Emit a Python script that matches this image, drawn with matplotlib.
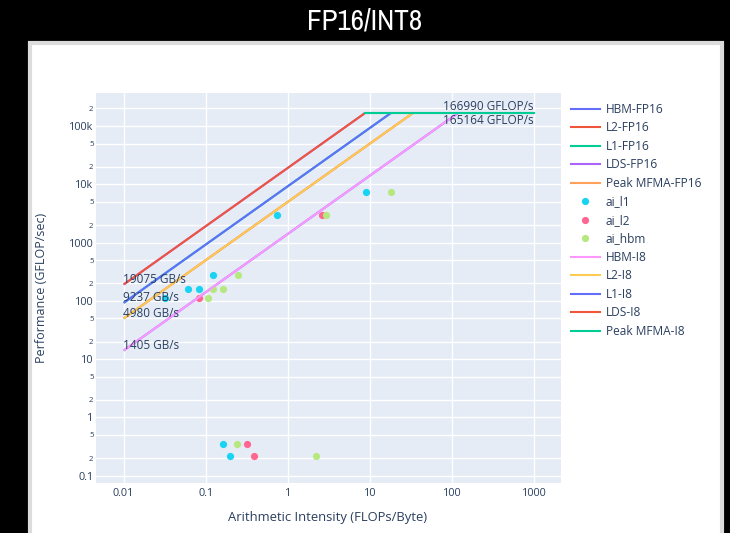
import matplotlib
matplotlib.use("Agg")
import matplotlib.pyplot as plt
from matplotlib.lines import Line2D
from matplotlib.patches import Rectangle
import numpy as np

plt.rcParams['font.family'] = ['Open Sans', 'DejaVu Sans']

# ---------------- data ----------------
bw_names = ["HBM", "L2", "L1", "LDS"]
bw_values = [1405, 4980, 9237, 19075]          # GB/s
peak_fp16 = 165164                              # GFLOP/s
peak_i8 = 166990                                # GOP/s
x_start = 0.01
x_end = 1000

ai_l1_x = [0.124, 0.0617, 0.0822, 0.032, 8.97, 0.735, 0.161, 0.196]
ai_l1_y = [281, 162, 162, 111, 7465, 2974, 0.351, 0.219]
ai_l2_x = [0.0837, 2.64, 0.318, 0.386]
ai_l2_y = [111, 2974, 0.351, 0.219]
ai_hbm_x = [0.245, 0.124, 0.164, 0.1057, 17.9, 2.93, 0.243, 2.21]
ai_hbm_y = [281, 162, 162, 111, 7465, 2974, 0.351, 0.219]

xtick_vals = [0.01, 0.1, 1, 10, 100, 1000]
xtick_labels = ["0.01", "0.1", "1", "10", "100", "1000"]
ytick_major = [0.1, 1, 10, 100, 1000, 10000, 100000]
ytick_major_labels = ["0.1", "1", "10", "100", "1000", "10k", "100k"]

# ---------------- style ----------------
c_fp16 = {"HBM": "#636EFA", "L2": "#EF553B", "L1": "#00CC96", "LDS": "#AB63FA"}
c_peak_fp16 = "#FFA15A"
c_i8 = {"HBM": "#FF97FF", "L2": "#FECB52", "L1": "#636EFA", "LDS": "#EF553B"}
c_peak_i8 = "#00CC96"
c_ai = {"ai_l1": "#19D3F3", "ai_l2": "#FF6692", "ai_hbm": "#B6E880"}
txt = "#2a3f5f"
ann_fs = 8.5

W, H = 730, 533
fig = plt.figure(figsize=(W / 100, H / 100), dpi=100, facecolor="black")

# white panel
fig.patches.append(Rectangle((30 / W, -0.01), (722 - 30) / W, (533 - 43) / H + 0.01,
                             transform=fig.transFigure, facecolor="white",
                             edgecolor="#dcdcdc", linewidth=3, zorder=-5))
fig.text(365 / W, 1 - 21 / H, "FP16/INT8", color="white", ha="center", va="center",
         fontsize=21, family=["Archivo Narrow", "DejaVu Sans"])

ax = fig.add_axes([96 / W, (533 - 483) / H, (561 - 96) / W, (483 - 93) / H])
ax.set_facecolor("#E5ECF6")
ax.set_xscale("log")
ax.set_yscale("log")
ax.set_xlim(10 ** -2.337, 10 ** 3.33)
ax.set_ylim(10 ** -1.125, 10 ** 5.566)
for s in ax.spines.values():
    s.set_visible(False)

lw = 1.5
handles = []
labels = []

def roof_lines(colors, peak, suffix, z, annotate):
    ridge_min = min(peak / b for b in bw_values)
    for name, bw in zip(bw_names, bw_values):
        ridge = peak / bw
        xs = [x_start, ridge]
        ys = [bw * x_start, peak]
        ax.plot(xs, ys, color=colors[name], lw=lw, zorder=z, solid_capstyle="butt")
        handles.append(Line2D([], [], color=colors[name], lw=lw))
        labels.append(f"{name}-{suffix}")
        if annotate:
            ax.annotate(f"{bw} GB/s", (x_start, bw * x_start), xytext=(-0.5, 1.2),
                        textcoords="offset points", ha="left", va="baseline",
                        fontsize=ann_fs, color=txt, zorder=10)
    return ridge_min

# FP16 traces
rm = roof_lines(c_fp16, peak_fp16, "FP16", 2, False)
ax.plot([rm, x_end], [peak_fp16, peak_fp16], color=c_peak_fp16, lw=lw, zorder=2)
handles.append(Line2D([], [], color=c_peak_fp16, lw=lw))
labels.append("Peak MFMA-FP16")
ax.annotate(f"{peak_fp16} GFLOP/s", (x_end, peak_fp16), xytext=(0, -0.8),
            textcoords="offset points", ha="right", va="top", fontsize=ann_fs,
            color=txt, zorder=10)

# scatter points
ms = 5.2
for name, xs, ys in [("ai_l1", ai_l1_x, ai_l1_y), ("ai_l2", ai_l2_x, ai_l2_y),
                     ("ai_hbm", ai_hbm_x, ai_hbm_y)]:
    ax.plot(xs, ys, linestyle="none", marker="o", ms=ms, color=c_ai[name],
            mec="none", zorder=3)
    handles.append(Line2D([], [], linestyle="none", marker="o", ms=ms,
                          color=c_ai[name], mec="none"))
    labels.append(name)

# I8 traces
rm = roof_lines(c_i8, peak_i8, "I8", 4, True)
ax.plot([rm, x_end], [peak_i8, peak_i8], color=c_peak_i8, lw=lw, zorder=4)
handles.append(Line2D([], [], color=c_peak_i8, lw=lw))
labels.append("Peak MFMA-I8")
ax.annotate(f"{peak_i8} GFLOP/s", (x_end, peak_i8), xytext=(0, 2.5),
            textcoords="offset points", ha="right", va="baseline", fontsize=ann_fs,
            color=txt, zorder=10)

# ticks
ax.set_xticks(xtick_vals)
ax.set_xticklabels(xtick_labels)
ax.xaxis.set_minor_locator(matplotlib.ticker.NullLocator())

yt, yl, ysz = [], [], []
for k, v in enumerate(ytick_major):
    yt.append(v); yl.append(ytick_major_labels[k]); ysz.append(7.8)
    for m in (2, 5):
        mv = v * m
        if mv < 10 ** 5.566:
            yt.append(mv); yl.append(str(m)); ysz.append(5.6)
ax.set_yticks(yt)
ax.set_yticklabels(yl)
ax.yaxis.set_minor_locator(matplotlib.ticker.NullLocator())
for lab, sz in zip(ax.get_yticklabels(), ysz):
    lab.set_fontsize(sz)
ax.tick_params(axis="y", length=0, pad=1.8, colors=txt)
ax.tick_params(axis="x", length=0, pad=3.5, labelsize=7.8, colors=txt)
ax.grid(True, color="white", lw=1.0)
ax.set_axisbelow(True)

ax.set_xlabel("Arithmetic Intensity (FLOPs/Byte)", fontsize=9.4, color=txt)
ax.xaxis.set_label_coords((328 - 96) / 465, -(518 - 483) / 390)
ax.xaxis.label.set_va("center")
ax.set_ylabel("Performance (GFLOP/sec)", fontsize=9.0, color=txt)
ax.yaxis.set_label_coords((42 - 96) / 465, 0.5)
ax.yaxis.label.set_va("center")

leg = ax.legend(handles, labels, loc="upper left",
                bbox_to_anchor=(571 / W, 1 - 103 / H), bbox_transform=fig.transFigure,
                frameon=False, fontsize=8.6, labelcolor=txt, handlelength=2.4,
                handletextpad=0.5, labelspacing=0.46, borderpad=0, borderaxespad=0)

fig.savefig("out.png", dpi=100, facecolor="black")
